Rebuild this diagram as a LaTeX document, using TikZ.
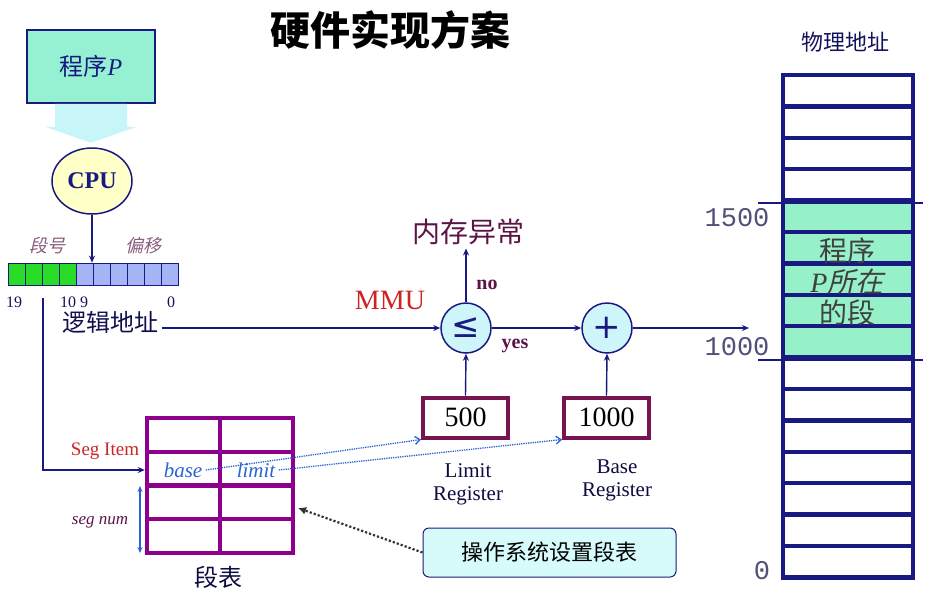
\documentclass[tikz,border=0pt]{standalone}
\usepackage{fontspec}
\setmainfont{Liberation Serif}
\newfontfamily\cjk{Noto Sans CJK SC}
\newfontfamily\cjkit[FakeSlant=0.22]{Noto Sans CJK SC}
\newfontfamily\numfont{Liberation Mono}
\newfontfamily\symfont{DejaVu Sans}
\usetikzlibrary{arrows.meta,shapes.geometric,positioning}

\definecolor{navyline}{RGB}{25,25,130}
\definecolor{progfill}{RGB}{150,240,210}
\definecolor{cpufill}{RGB}{255,255,200}
\definecolor{widecyan}{RGB}{200,245,248}
\definecolor{segred}{RGB}{205,35,35}
\definecolor{regmag}{RGB}{120,20,80}
\definecolor{tabpurple}{RGB}{140,0,140}
\definecolor{dotblue}{RGB}{40,100,210}
\definecolor{darkplum}{RGB}{90,20,70}
\definecolor{bitgreen}{RGB}{40,220,40}
\definecolor{bitblue}{RGB}{165,180,245}
\definecolor{memgreen}{RGB}{150,240,200}
\definecolor{circfill}{RGB}{205,245,250}
\definecolor{osfill}{RGB}{215,250,250}
\definecolor{graynum}{RGB}{80,80,120}

\tikzset{
  bitcell/.style={draw=navyline, line width=0.8pt, minimum width=17pt, minimum height=22pt, inner sep=0pt},
  opcirc/.style={circle, draw=navyline, line width=1.5pt, fill=circfill, minimum size=50pt, inner sep=0pt,
                 text=navyline, font=\symfont\fontsize{34}{34}\selectfont},
  regbox/.style={draw=regmag, line width=4pt, minimum width=85pt, minimum height=40pt, font=\fontsize{28}{28}\selectfont},
  flujo/.style={navyline, line width=1.4pt, -{Stealth[length=7pt,width=6pt]}},
  punteado/.style={dotblue, densely dotted, line width=1.3pt, -{Straight Barb[length=5pt,width=8pt]}}
}

\begin{document}
\begin{tikzpicture}[x=1pt, y=-1pt]
\useasboundingbox (0,0) rectangle (926,598);

% Titulo
\node[font=\cjk\bfseries\fontsize{40}{40}\selectfont] (titulo) at (390,30) {硬件实现方案};

% Programa P y CPU
\node[draw=navyline, line width=1.5pt, fill=progfill, minimum width=128pt, minimum height=73pt,
      text=navyline, font=\fontsize{24}{24}\selectfont] (prog) at (91,66.5) {{\cjk 程序}\textit{P}};
\fill[widecyan] (prog.south) ++(-36,0) -- ++(72,0) -- ++(0,23) -- ++(10,0) -- ++(-46,16)
      -- ++(-46,-16) -- ++(10,0) -- cycle;
\node[ellipse, draw=navyline, line width=1.5pt, fill=cpufill, minimum width=80pt, minimum height=66pt,
      text=navyline, font=\bfseries\fontsize{24}{24}\selectfont] (cpu) at (92,181) {CPU};

% Direccion logica
\foreach \i in {0,...,9}{
  \ifnum\i<4 \def\cellcol{bitgreen}\else \def\cellcol{bitblue}\fi
  \node[bitcell, fill=\cellcol] (b\i) at (16.5+17*\i,274) {};
}
\draw[flujo] (cpu.south) -- (cpu.south |- b4.north);
\node[text=darkplum!70, font=\cjkit\fontsize{18}{18}\selectfont] (segno) at (47,246) {段号};
\node[text=darkplum!70, font=\cjkit\fontsize{18}{18}\selectfont] (despl) at (143,246) {偏移};
\node[text=navyline!70!black, font=\fontsize{16}{16}\selectfont] (n19) at (14,302) {19};
\node[text=navyline!70!black, font=\fontsize{16}{16}\selectfont] (n109) at (74,302) {10 9};
\node[text=navyline!70!black, font=\fontsize{16}{16}\selectfont] (n0) at (171,302) {0};
\node[text=navyline!60!black, font=\cjk\fontsize{24}{24}\selectfont] (logaddr) at (110,322) {逻辑地址};
\coordinate (tap) at (43,298);

% MMU
\node[text=segred, font=\fontsize{28}{28}\selectfont] (mmu) at (390,300) {MMU};
\node[opcirc] (cmp) at (466,328) {≤};
\node[opcirc] (add) at (607,328) {+};
\node[text=darkplum, font=\cjk\fontsize{28}{28}\selectfont] (exc) at (468,232) {内存异常};
\node[text=darkplum, font=\bfseries\fontsize{20}{20}\selectfont] (no) at (487,285) {no};
\node[text=darkplum, font=\bfseries\fontsize{20}{20}\selectfont] (yes) at (515,346) {yes};
\node[regbox] (limreg) at (465.5,417.5) {500};
\node[regbox] (basereg) at (606.5,417.5) {1000};
\node[align=center, text=navyline!50!black, font=\fontsize{21}{23}\selectfont] (limlab) at (468,484) {Limit\\Register};
\node[align=center, text=navyline!50!black, font=\fontsize{21}{23}\selectfont] (baselab) at (617,480) {Base\\Register};
\coordinate (fisica) at (749,328);

\draw[flujo] (logaddr.east |- cmp.west) -- (cmp.west);
\draw[flujo] (cmp.north) -- (cmp.north |- exc.south);
\draw[flujo] (cmp.east) -- (add.west);
\draw[flujo] (add.east) -- (fisica);
\draw[flujo] (limreg.north) -- (cmp.south);
\draw[flujo] (basereg.north) -- (add.south);

% Tabla de segmentos
\node[draw=tabpurple, line width=4.5pt, minimum width=146pt, minimum height=135pt] (tabla) at (220,485.5) {};
\draw[tabpurple, line width=4.5pt] (tabla.north) -- (tabla.south);
\foreach \yy in {452,485.5,519}
  \draw[tabpurple, line width=4.5pt] (tabla.west |- 0,\yy) -- (tabla.east |- 0,\yy);
\node[text=segred, font=\fontsize{19}{19}\selectfont] (item) at (105,451) {Seg Item};
\node[text=dotblue, font=\itshape\fontsize{21}{21}\selectfont] (base) at (183,470) {base};
\node[text=dotblue, font=\itshape\fontsize{21}{21}\selectfont] (limit) at (256,470) {limit};
\node[text=darkplum, font=\itshape\fontsize{17}{17}\selectfont] (segnum) at (100,522) {seg num};
\node[text=navyline!50!black, font=\cjk\fontsize{24}{24}\selectfont] (duanbiao) at (218,577) {段表};
\coordinate (sn1) at (140,486);
\coordinate (sn2) at (140,553);
\coordinate (tabhit) at (298,508);

\draw[flujo] (tap) |- (tabla.west |- base);
\draw[dotblue, line width=1.2pt, {Stealth[length=6pt,width=5pt]}-{Stealth[length=6pt,width=5pt]}] (sn1) -- (sn2);
\draw[punteado] (base.east) -- (limreg.south west);
\draw[punteado] (limit.east) -- (basereg.south west);

% Sistema operativo
\node[draw=navyline, line width=1pt, fill=osfill, rounded corners=6pt, minimum width=253pt, minimum height=49pt,
      font=\cjk\fontsize{22}{22}\selectfont] (os) at (549.5,552.5) {操作系统设置段表};
\draw[black!80, dotted, line width=2.2pt, -{Latex[length=8pt,width=8pt]}] (os.west) -- (tabhit);

% Memoria fisica
\node[text=navyline!70!black, font=\cjk\fontsize{22}{22}\selectfont] (memtit) at (845,42) {物理地址};
\fill[memgreen] (783,200.6) rectangle (913,357.6);
\foreach \k in {0,...,15}
  \draw[navyline, line width=4.5pt] (783,75+31.4*\k) rectangle (913,75+31.4*\k+31.4);
\draw[navyline, line width=1.2pt] (758,203) -- (923,203);
\draw[navyline, line width=1.2pt] (758,360) -- (923,360);
\node[text=graynum, font=\numfont\fontsize{27}{27}\selectfont] (m1500) at (737,218) {1500};
\node[text=graynum, font=\numfont\fontsize{27}{27}\selectfont] (m1000) at (737,347) {1000};
\node[text=graynum, font=\numfont\fontsize{27}{27}\selectfont] (m0) at (762,571) {0};
\node[align=center, text=black!75, font=\cjk\fontsize{28}{31}\selectfont] (pseg) at (847,282)
     {程序\\{\rmfamily\itshape P}{\cjkit 所在}\\的段};
\end{tikzpicture}
\end{document}
